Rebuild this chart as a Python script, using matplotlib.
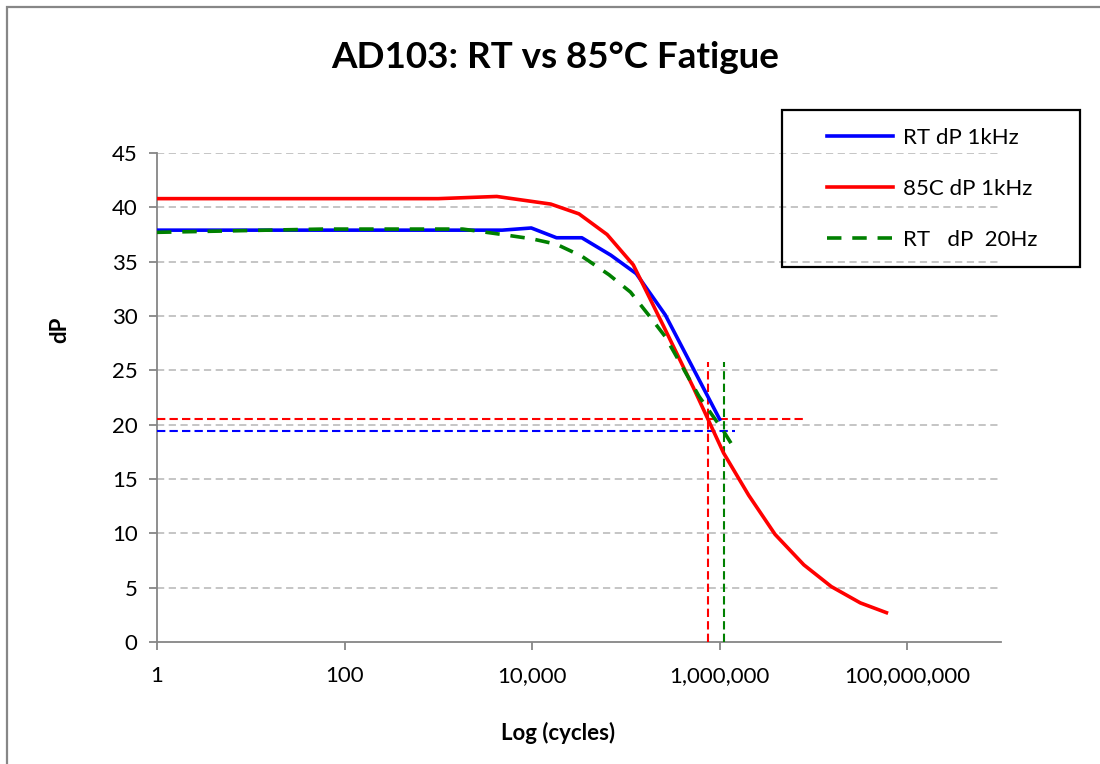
import matplotlib
matplotlib.use("Agg")
import matplotlib.pyplot as plt
from matplotlib.patches import Rectangle
from matplotlib.lines import Line2D

plt.rcParams['font.family'] = ['Lato', 'DejaVu Sans']

# ---- data ----
rt1k_x = [1, 4800, 9800, 18200, 33900, 69000, 129000, 263000, 1000000]
rt1k_y = [37.9, 37.9, 38.1, 37.2, 37.2, 35.6, 33.9, 30.1, 20.5]

hot1k_x = [1, 1000, 4200, 15800, 31600, 63000, 120000, 251000, 525000,
           1100000, 2040000, 3900000, 7900000, 15500000, 31600000, 60000000]
hot1k_y = [40.8, 40.8, 41.0, 40.3, 39.4, 37.5, 34.7, 29.1, 23.4,
           17.4, 13.5, 9.9, 7.1, 5.1, 3.6, 2.7]

rt20_x = [1, 59, 1820, 4800, 10000, 18200, 33900, 66000, 112000, 178000,
          263000, 603000, 1100000, 1320000]
rt20_y = [37.7, 38.0, 38.0, 37.5, 37.1, 36.6, 35.5, 33.8, 32.2, 30.0,
          28.1, 22.6, 19.4, 18.3]

# reference (failure) lines
red_h_y, red_h_xend = 20.5, 7800000
blue_h_y, blue_h_xend = 19.4, 1450000
red_v_x, red_v_top = 760000, 25.8
green_v_x, green_v_top = 1120000, 25.8

xticks = [1, 100, 10000, 1000000, 100000000]
xticklabels = ["1", "100", "10,000", "1,000,000", "100,000,000"]
yticks = list(range(0, 50, 5))

labels = ["RT dP 1kHz", "85C dP 1kHz", "RT   dP  20Hz"]

W, H = 1100, 764
fig = plt.figure(figsize=(W / 100, H / 100), dpi=100)
ax = fig.add_axes([157 / W, 1 - 642 / H, (1001 - 157) / W, (642 - 153) / H])

ax.set_xscale('log')
ax.set_xlim(1, 1e9)
ax.set_ylim(0, 45)

# grid
for yv in yticks[1:]:
    ax.axhline(yv, color='#c0c0c0', lw=1.3, ls=(0, (4, 2.5)), zorder=1)

# reference lines
ax.plot([1, red_h_xend], [red_h_y, red_h_y], color='red', lw=1.5, ls=(0, (4, 2)), zorder=3)
ax.plot([1, blue_h_xend], [blue_h_y, blue_h_y], color='blue', lw=1.5, ls=(0, (4, 2)), zorder=3)
ax.plot([red_v_x, red_v_x], [0, red_v_top], color='red', lw=1.5, ls=(0, (4, 2)), zorder=3)
ax.plot([green_v_x, green_v_x], [0, green_v_top], color='green', lw=1.5, ls=(0, (4, 2)), zorder=3)

# series
ax.plot(rt1k_x, rt1k_y, color='blue', lw=2.6, zorder=4, solid_joinstyle='round')
ax.plot(hot1k_x, hot1k_y, color='red', lw=2.6, zorder=5, solid_joinstyle='round')
ax.plot(rt20_x, rt20_y, color='green', lw=2.6, ls=(0, (4, 3)), zorder=6)

# axes styling
for s in ['top', 'right']:
    ax.spines[s].set_visible(False)
for s in ['left', 'bottom']:
    ax.spines[s].set_color('#868686')
    ax.spines[s].set_linewidth(1.3)
ax.set_xticks(xticks)
ax.set_xticklabels(xticklabels)
ax.xaxis.set_minor_locator(matplotlib.ticker.NullLocator())
ax.set_yticks(yticks)
ax.tick_params(axis='both', colors='#868686', labelcolor='black', labelsize=16,
               length=6, width=1.3, direction='out')
ax.tick_params(axis='x', pad=11)
ax.tick_params(axis='y', pad=8)

fig.text(555 / W, 1 - 58 / H, "AD103: RT vs 85°C Fatigue", ha='center', va='center',
         fontsize=26.5, fontweight='bold')
fig.text(60 / W, 1 - 330 / H, "dP", rotation=90, ha='center', va='center',
         fontsize=16, fontweight='bold')
fig.text(558 / W, 1 - 733 / H, "Log (cycles)", ha='center', va='center',
         fontsize=16, fontweight='bold')

# legend
fig.patches.append(Rectangle((782 / W, 1 - 267 / H), (1080 - 782) / W, (267 - 110) / H,
                             transform=fig.transFigure, fill=False, edgecolor='black',
                             lw=1.6, zorder=10))
handles = [Line2D([], [], color='blue', lw=2.6),
           Line2D([], [], color='red', lw=2.6),
           Line2D([], [], color='green', lw=2.6, ls=(0, (4, 3)))]
leg = fig.legend(handles, labels, loc='upper left',
                 bbox_to_anchor=(827 / W, 1 - 128 / H), frameon=False,
                 fontsize=16, handlelength=2.95, handletextpad=0.45,
                 labelspacing=1.4, borderpad=0, borderaxespad=0)

# outer border
fig.patches.append(Rectangle((7 / W, -0.05), 1.1, 1 - 6.5 / H + 0.05,
                             transform=fig.transFigure, fill=False,
                             edgecolor='#878787', lw=1.6, zorder=0))

fig.savefig("out.png", dpi=100)
